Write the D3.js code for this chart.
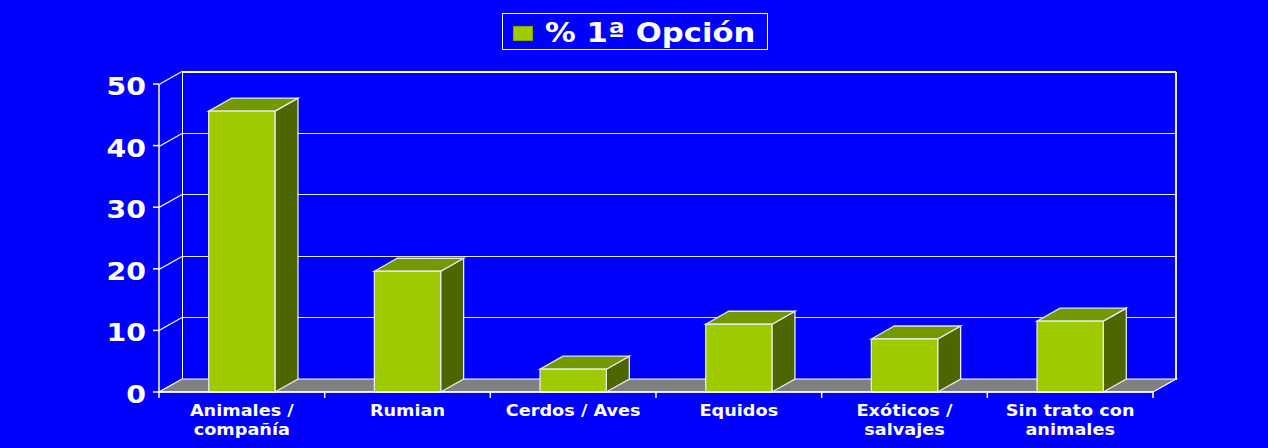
<!DOCTYPE html>
<html>
<head>
<meta charset="utf-8">
<script src="https://cdn.jsdelivr.net/npm/d3@7"></script>
<style>
  body { margin: 0; background: #0000ff; }
  svg { display: block; }
  text { font-family: "DejaVu Sans", Verdana, sans-serif; font-weight: bold; fill: #fff; }
  .crisp { shape-rendering: crispEdges; }
</style>
</head>
<body>
<div class="div-chart"></div>
<script>
// data
const categories = [
  ["Animales /", "compañía"],
  ["Rumian"],
  ["Cerdos / Aves"],
  ["Equidos"],
  ["Exóticos /", "salvajes"],
  ["Sin trato con", "animales"]
];
const values = [45.6, 19.6, 3.7, 11.0, 8.6, 11.5];
const yTicks = [0, 10, 20, 30, 40, 50];
const seriesName = "% 1ª Opción";

const width = 1268,
  height = 448;
const plotLeft = 159, plotRight = 1153, plotBottom = 392, plotTop = 84;
const dx = 23, dy = -13; // depth of the 3d box
const sx = 1.18; // text in the picture is stretched horizontally

const colFront = "#9ecb00", colTop = "#739900", colSide = "#4d6600";

const svg = d3.select(".div-chart").append("svg")
  .attr("width", width).attr("height", height)
  .attr("viewBox", `0 0 ${width} ${height}`);

svg.append("rect").attr("width", width).attr("height", height).attr("fill", "#0000ff");

const x = d3.scaleBand().domain(d3.range(categories.length)).range([plotLeft, plotRight]).padding(0);
const y = d3.scaleLinear().domain([0, 50]).range([plotBottom, plotTop]);
const yr = (v) => Math.round(y(v)) + 0.5; // pixel-aligned for sharp grid lines

// helper to place stretched text
function sText(g, tx, ty, str, size, anchor) {
  return g.append("text")
    .attr("transform", `translate(${tx},${ty}) scale(${sx},1)`)
    .attr("text-anchor", anchor)
    .style("font-size", size + "px")
    .text(str);
}

// walls
const walls = svg.append("g").attr("id", "walls");
yTicks.forEach((t) => {
  walls.append("line")
    .attr("x1", plotLeft).attr("y1", yr(t)).attr("x2", plotLeft + dx).attr("y2", yr(t) + dy)
    .attr("stroke", "#fff").attr("stroke-width", 1.2);
  walls.append("line").attr("class", "crisp")
    .attr("x1", plotLeft + dx).attr("y1", yr(t) + dy).attr("x2", plotRight + dx).attr("y2", yr(t) + dy)
    .attr("stroke", t === 50 ? "#fff" : "#e8e8ff").attr("stroke-width", t === 50 ? 2 : 1);
});
walls.append("line").attr("class", "crisp")
  .attr("x1", plotLeft + dx + 0.5).attr("y1", yr(50) + dy).attr("x2", plotLeft + dx + 0.5).attr("y2", yr(0) + dy)
  .attr("stroke", "#fff");
walls.append("line").attr("class", "crisp")
  .attr("x1", plotRight + dx).attr("y1", yr(50) + dy).attr("x2", plotRight + dx).attr("y2", yr(0) + dy)
  .attr("stroke", "#e8e8ff").attr("stroke-width", 2);

// floor
svg.append("polygon")
  .attr("points", [[plotLeft, y(0)], [plotRight, y(0)], [plotRight + dx, y(0) + dy], [plotLeft + dx, y(0) + dy]].join(" "))
  .attr("fill", "#808080").attr("stroke", "#fff").attr("stroke-width", 1.2);

// bars
const barW = x.bandwidth() * 0.4;
const bars = svg.append("g").attr("id", "bars")
  .selectAll("g").data(values).join("g");

bars.each(function (v, i) {
  const g = d3.select(this);
  const x0 = x(i) + (x.bandwidth() - barW) / 2, x1 = x0 + barW;
  const y0 = y(0), y1 = y(v);
  g.append("polygon")
    .attr("points", [[x1, y0], [x1 + dx, y0 + dy], [x1 + dx, y1 + dy], [x1, y1]].join(" "))
    .attr("fill", colSide).attr("stroke", "#e8e8e8").attr("stroke-width", 1.3);
  g.append("polygon")
    .attr("points", [[x0, y1], [x1, y1], [x1 + dx, y1 + dy], [x0 + dx, y1 + dy]].join(" "))
    .attr("fill", colTop).attr("stroke", "#e8e8e8").attr("stroke-width", 1.3);
  g.append("rect")
    .attr("x", x0).attr("y", y1).attr("width", barW).attr("height", y0 - y1)
    .attr("fill", colFront).attr("stroke", "#e8e8e8").attr("stroke-width", 1.3);
});

// front axes
const axes = svg.append("g").attr("id", "axes");
axes.append("line")
  .attr("x1", plotLeft).attr("y1", y(50)).attr("x2", plotLeft).attr("y2", y(0))
  .attr("stroke", "#fff").attr("stroke-width", 1.5);
axes.append("line")
  .attr("x1", plotLeft).attr("y1", y(0)).attr("x2", plotRight).attr("y2", y(0))
  .attr("stroke", "#fff").attr("stroke-width", 1.5);
yTicks.forEach((t) => {
  axes.append("line")
    .attr("x1", plotLeft - 6).attr("y1", y(t)).attr("x2", plotLeft).attr("y2", y(t))
    .attr("stroke", "#fff").attr("stroke-width", 1.5);
  sText(axes, 146, y(t) + 11, t, 24, "end");
});
d3.range(categories.length + 1).forEach((k) => {
  const tx = plotLeft + k * x.step();
  axes.append("line")
    .attr("x1", tx).attr("y1", y(0)).attr("x2", tx).attr("y2", y(0) + 6)
    .attr("stroke", "#fff").attr("stroke-width", 1.5);
});
categories.forEach((lines, i) => {
  lines.forEach((ln, j) => {
    sText(axes, x(i) + x.bandwidth() / 2, 416 + j * 19, ln, 15, "middle");
  });
});

// legend
const legend = svg.append("g").attr("id", "legend");
legend.append("rect")
  .attr("x", 502.5).attr("y", 13.5).attr("width", 265).attr("height", 36)
  .attr("fill", "#0000ff").attr("stroke", "#fff").attr("stroke-width", 1);
legend.append("rect")
  .attr("x", 513).attr("y", 26).attr("width", 20).attr("height", 15)
  .attr("fill", colFront).attr("stroke", "#333").attr("stroke-width", 0.5);
sText(legend, 545, 42, seriesName, 26, "start");
</script>
</body>
</html>
